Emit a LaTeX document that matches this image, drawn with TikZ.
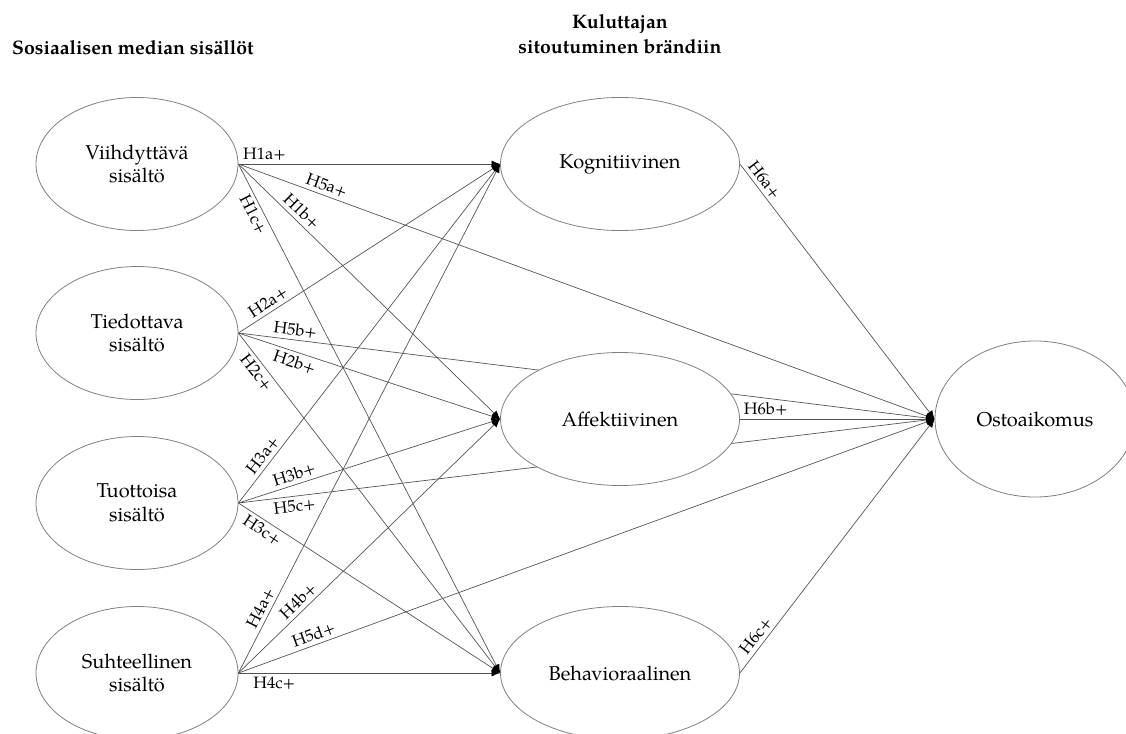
\documentclass[tikz,border=0pt]{standalone}
\usepackage{fontspec}
\setmainfont{TeX Gyre Pagella}
\usetikzlibrary{shapes.geometric,arrows.meta,backgrounds}
\definecolor{ellgray}{gray}{0.5}
\definecolor{linegray}{gray}{0.33}
\begin{document}
\begin{tikzpicture}[x=1pt,y=-1pt,
  src/.style={ellipse, draw=ellgray, fill=white, line width=0.8pt, minimum width=202pt, minimum height=133pt, align=center, font=\fontsize{20}{23.5}\selectfont, inner sep=0pt},
  mid/.style={src, minimum width=239pt},
  outc/.style={src, minimum width=200pt, minimum height=156pt},
  conn/.style={draw=linegray, line width=0.7pt},
  arr/.style={conn, -{Latex[length=8.5pt,width=7pt,color=black]}},
  lbl/.style={font=\fontsize{16.5}{18}\selectfont, inner sep=3.5pt, sloped},
  ttl/.style={font=\bfseries\fontsize{19.5}{25}\selectfont, inner sep=0pt}
]
\useasboundingbox (0,0) rectangle (1126,733);

\node[ttl, anchor=base west] (t1) at (12,55) {Sosiaalisen median sisällöt};
\node[ttl, align=center, anchor=south] (t2) at (620,54) {Kuluttajan\\sitoutuminen brändiin};

\node[src] (v) at (137,164) {Viihdyttävä\\sisältö};
\node[src] (t) at (137,333) {Tiedottava\\sisältö};
\node[src] (tu) at (137,503) {Tuottoisa\\sisältö};
\node[src] (s) at (137,673) {Suhteellinen\\sisältö};
\node[mid] (k) at (620,164) {Kognitiivinen};
\node[mid] (a) at (620,419) {Affektiivinen};
\node[mid] (b) at (620,673) {Behavioraalinen};
\node[outc] (o) at (1035,419) {Ostoaikomus};

\begin{scope}[on background layer]
\draw[arr] (v.east) -- node[lbl,above,pos=0.10]{H1a+} (k.west);
\draw[arr] (v.east) -- node[lbl,above,pos=0.215]{H1b+} (a.west);
\draw[arr] (v.east) -- node[lbl,below,pos=0.091]{H1c+} (b.west);
\draw[arr] (v.east) -- node[lbl,above,pos=0.122]{H5a+} (o.west);

\draw[arr] (t.east) -- node[lbl,above,pos=0.134]{H2a+} (k.west);
\draw[arr] (t.east) -- node[lbl,below,pos=0.227]{H2b+} (a.west);
\draw[arr] (t.east) -- node[lbl,below,pos=0.099]{H2c+} (b.west);
\draw[arr] (t.east) -- node[lbl,above,pos=0.080]{H5b+} (o.west);

\draw[arr] (tu.east) -- node[lbl,above,pos=0.123]{H3a+} (k.west);
\draw[arr] (tu.east) -- node[lbl,above,pos=0.225]{H3b+} (a.west);
\draw[arr] (tu.east) -- node[lbl,below,pos=0.112]{H3c+} (b.west);
\draw[arr] (tu.east) -- node[lbl,below,pos=0.079]{H5c+} (o.west);

\draw[arr] (s.east) -- node[lbl,above,pos=0.119]{H4a+} (k.west);
\draw[arr] (s.east) -- node[lbl,above,pos=0.255]{H4b+} (a.west);
\draw[arr] (s.east) -- node[lbl,below,pos=0.137]{H4c+} (b.west);
\draw[arr] (s.east) -- node[lbl,above,pos=0.113]{H5d+} (o.west);

\draw[arr] (k.east) -- node[lbl,above,pos=0.086]{H6a+} (o.west);
\draw[arr] (a.east) -- node[lbl,above,pos=0.133]{H6b+} (o.west);
\draw[arr] (b.east) -- node[lbl,above,pos=0.122]{H6c+} (o.west);
\end{scope}
\end{tikzpicture}
\end{document}
